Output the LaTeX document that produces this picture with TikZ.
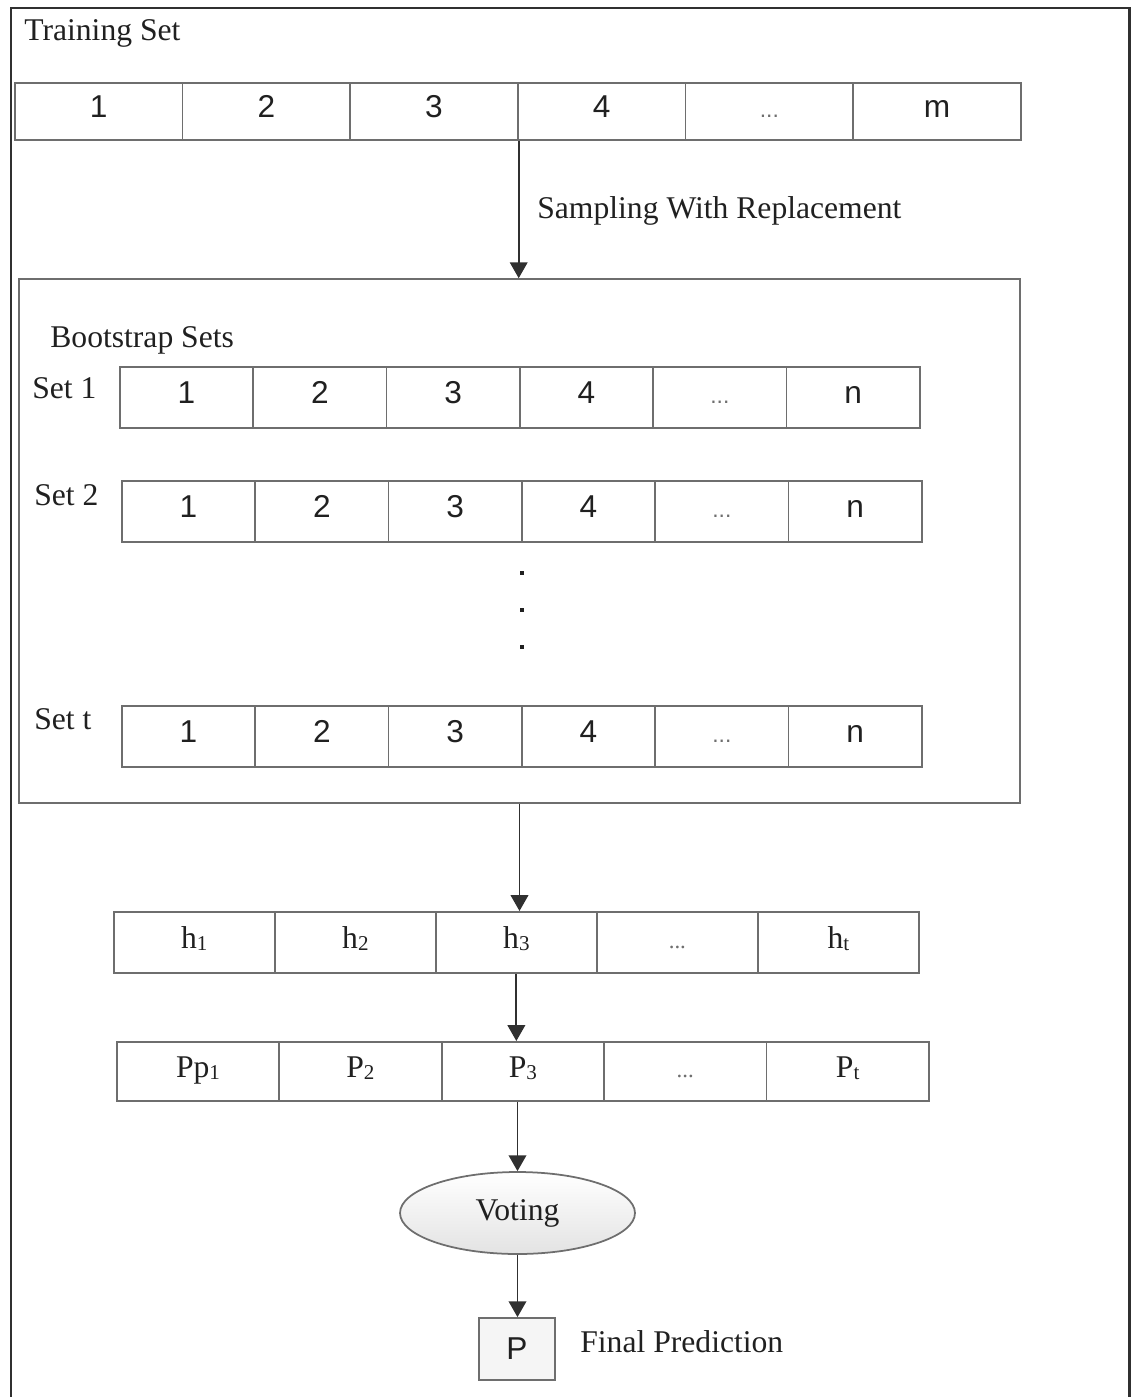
\documentclass[tikz,border=0pt]{standalone}
\usepackage{fontspec}
\setmainfont{Liberation Serif}
\setsansfont{Liberation Sans}
\usetikzlibrary{arrows.meta,shapes.geometric}

\definecolor{trait}{HTML}{6E6E6E}
\definecolor{cadre}{HTML}{303030}
\definecolor{encre}{HTML}{202020}

\newcommand\pointsgris{{\color{trait}\fontsize{13}{13}\selectfont ...}}
\newcommand\ind[1]{\raisebox{-1pt}{\fontsize{12}{12}\selectfont #1}}

\tikzset{cellule/.style = {rectangle, draw=trait, line width=1pt, anchor=north west,
                           minimum width=#1, inner sep=0pt, text height=13pt,
                           text depth=6pt, text=encre, font=\fontsize{18}{18}\selectfont},
         cellule/.default=3.35cm,
         etiquette/.style = {anchor=base west, inner sep=0pt, text=encre,
                             font=\fontsize{18}{18}\selectfont},
         fleche/.style = {draw=cadre, line width=1pt, -{Triangle[width=10pt,length=9pt]}},
         point/.style = {rectangle, fill=encre, minimum size=0.08cm, inner sep=0pt}
        }

\begin{document}
\begin{tikzpicture}[x=0.02cm, y=-0.02cm]
  \useasboundingbox (0,0) rectangle (1131,1397);
  % page frame, open at the bottom
  \draw[cadre, line width=1.7pt] (11,1397) -- (11,8) -- (1129,8) -- (1129,1397);

  % training set
  \node[etiquette] (train) at (24,40) {Training Set};
  \foreach \lab [count=\i] in {1,2,3,4,\pointsgris,m}
    \node[cellule=3.353cm, minimum height=1.14cm, font=\fontsize{18}{18}\sffamily]
      (t\i) at (14+167.67*\i-167.67, 82) {\lab};
  \node[etiquette] (samp) at (537,218) {Sampling With Replacement};

  % bootstrap sets
  \node[rectangle, draw=trait, line width=1pt, minimum width=20.02cm,
        minimum height=10.48cm] (boot) at (519.5,541) {};
  \node[etiquette] (bootlab) at (50,347) {Bootstrap Sets};
  \foreach \nom/\x/\y/\lab/\yl in {s1/119/366/Set 1/398, s2/121/480/Set 2/505, st/121/705/Set t/729}
   {
    \node[etiquette] (\nom lab) at (\x-87,\yl) {\lab};
    \foreach \c [count=\i] in {1,2,3,4,\pointsgris,n}
      \node[cellule=2.667cm, minimum height=1.22cm, font=\fontsize{18}{18}\sffamily]
        (\nom\i) at (\x+133.33*\i-133.33, \y) {\c};
   }
  \foreach \y [count=\k] in {573,610,647}
    \node[point] (pt\k) at (522,\y) {};

  % classifiers and their predictions
  \foreach \lab [count=\i] in {h\ind{1},h\ind{2},h\ind{3},\pointsgris,h\ind{t}}
    \node[cellule=3.22cm, minimum height=1.22cm] (h\i) at (113+161*\i-161, 911) {\lab};
  \foreach \lab [count=\i] in {Pp\ind{1},P\ind{2},P\ind{3},\pointsgris,P\ind{t}}
    \node[cellule=3.248cm, minimum height=1.18cm] (p\i) at (116+162.4*\i-162.4, 1041) {\lab};

  \node[ellipse, draw=trait, line width=1pt, top color=white, bottom color=gray!22,
        minimum width=4.7cm, minimum height=1.64cm, text=encre,
        font=\fontsize{18}{18}\selectfont] (vote) at (517.5,1213) {Voting};
  \node[rectangle, draw=trait, line width=1pt, fill=gray!8, minimum width=1.52cm,
        minimum height=1.24cm, text=encre, font=\fontsize{18}{18}\sffamily]
    (final) at (517,1349) {P};
  \node[etiquette] (finlab) at (580,1352) {Final Prediction};

  % arrows
  \draw[fleche] (t3.south east) -- (t3.south east |- boot.north);
  \draw[fleche] (boot.south) -- (boot.south |- h3.north);
  \draw[fleche] (h3.south) -- (h3.south |- p3.north);
  \draw[fleche] (vote.north |- p3.south) -- (vote.north);
  \draw[fleche] (vote.south) -- (vote.south |- final.north);
\end{tikzpicture}
\end{document}
